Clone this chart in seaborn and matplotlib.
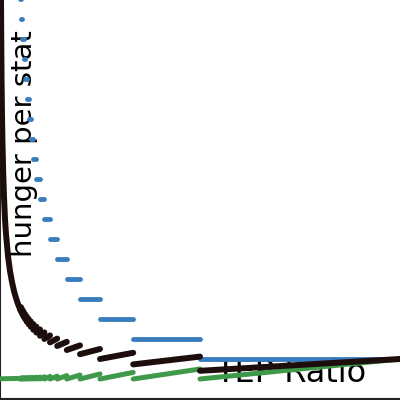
import numpy as np
import pandas as pd
import matplotlib
matplotlib.use("Agg")
import matplotlib.pyplot as plt
import seaborn as sns

# ---- data ----
# segment boundaries on the TEP Ratio axis (right edge, left edge of each step)
seg_right = [1.0, 0.5, 0.333, 0.25, 0.2, 0.167, 0.143, 0.125, 0.111, 0.1,
             0.0909, 0.0833, 0.0769, 0.0714, 0.0667, 0.0625, 0.0588, 0.0556, 0.0526]
seg_left = [0.5, 0.333, 0.25, 0.2, 0.167, 0.143, 0.125, 0.111, 0.1, 0.0909,
            0.0833, 0.0769, 0.0714, 0.0667, 0.0625, 0.0588, 0.0556, 0.0526, 0.05]
# blue: flat step level per segment
blue_level = [2, 3, 4, 5, 6, 7, 8, 9, 10, 11, 12, 13, 14, 15, 16, 17, 18, 19, 20]
# black: value at left and right end of each segment
black_start = [1.41, 1.73, 2.0, 2.24, 2.45, 2.65, 2.83, 3.0, 3.16, 3.32,
               3.46, 3.61, 3.74, 3.87, 4.0, 4.12, 4.24, 4.36, 4.47]
black_end = [2.0, 2.12, 2.31, 2.5, 2.68, 2.86, 3.02, 3.18, 3.33, 3.48,
             3.62, 3.75, 3.88, 4.01, 4.13, 4.25, 4.37, 4.48, 4.59]
# green: value at left and right end of each segment
green_start = [1.0] * 19
green_end = [2.0, 1.5, 1.33, 1.25, 1.2, 1.17, 1.14, 1.13, 1.11, 1.1,
             1.09, 1.08, 1.08, 1.07, 1.07, 1.06, 1.06, 1.06, 1.05]
# dense region near zero (segments merge into a curve)
black_near_x = [0.0024, 0.003, 0.004, 0.005, 0.006, 0.008, 0.01, 0.0125, 0.015,
                0.02, 0.025, 0.03, 0.035, 0.04, 0.045, 0.05]
black_near_y = [20.4, 18.3, 15.8, 14.2, 13.0, 11.3, 10.1, 9.0, 8.25,
                7.15, 6.4, 5.85, 5.4, 5.05, 4.75, 4.5]
green_near_x = [0.0, 0.025, 0.05]
green_near_y = [1.01, 1.02, 1.03]

# ---- build long table ----
rows = []
for i in range(len(seg_left)):
    rows.append(("blue", f"b{i}", seg_left[i], blue_level[i]))
    rows.append(("blue", f"b{i}", seg_right[i], blue_level[i]))
    rows.append(("green", f"g{i}", seg_left[i], green_start[i]))
    rows.append(("green", f"g{i}", seg_right[i], green_end[i]))
    rows.append(("black", f"k{i}", seg_left[i], black_start[i]))
    rows.append(("black", f"k{i}", seg_right[i], black_end[i]))
for x, y in zip(black_near_x, black_near_y):
    rows.append(("black", "knear", x, y))
for x, y in zip(green_near_x, green_near_y):
    rows.append(("green", "gnear", x, y))
df = pd.DataFrame(rows, columns=["series", "seg", "tep", "hunger"])

sns.set_style("white")
plt.rcParams["font.family"] = ["DejaVu Sans"]

fig = plt.figure(figsize=(4, 4), dpi=100)
ax = fig.add_axes([0.0, 0.0025, 1.0, 1.0])

palette = {"blue": "#3a7dbf", "green": "#3f994a", "black": "#1e0d0d"}
sizes = {"blue": 3.5, "green": 3.6, "black": 4.3}
sns.lineplot(data=df, x="tep", y="hunger", hue="series", units="seg",
             estimator=None, size="series", sizes=sizes,
             hue_order=["blue", "green", "black"], palette=palette,
             legend=False, ax=ax, solid_capstyle="round", zorder=3)

ax.set_xlim(0, 1)
ax.set_ylim(0, 20)
ax.set_xticks([])
ax.set_yticks([])
ax.set_xlabel("")
ax.set_ylabel("")
for s in ["top", "right"]:
    ax.spines[s].set_visible(False)
for s in ["left", "bottom"]:
    ax.spines[s].set_color("#222222")
    ax.spines[s].set_linewidth(1.5)

ax.text(291 / 400, 1 - 381.5 / 400, "TEP Ratio", transform=fig.transFigure,
        ha="center", va="baseline", fontsize=23, color="black", zorder=1)
ax.text(32 / 400, 1 - 144 / 400, "hunger per stat", transform=fig.transFigure,
        rotation=90, rotation_mode="anchor", ha="center", va="baseline",
        fontsize=21, color="black", zorder=1)

fig.savefig("out.png", dpi=100)
